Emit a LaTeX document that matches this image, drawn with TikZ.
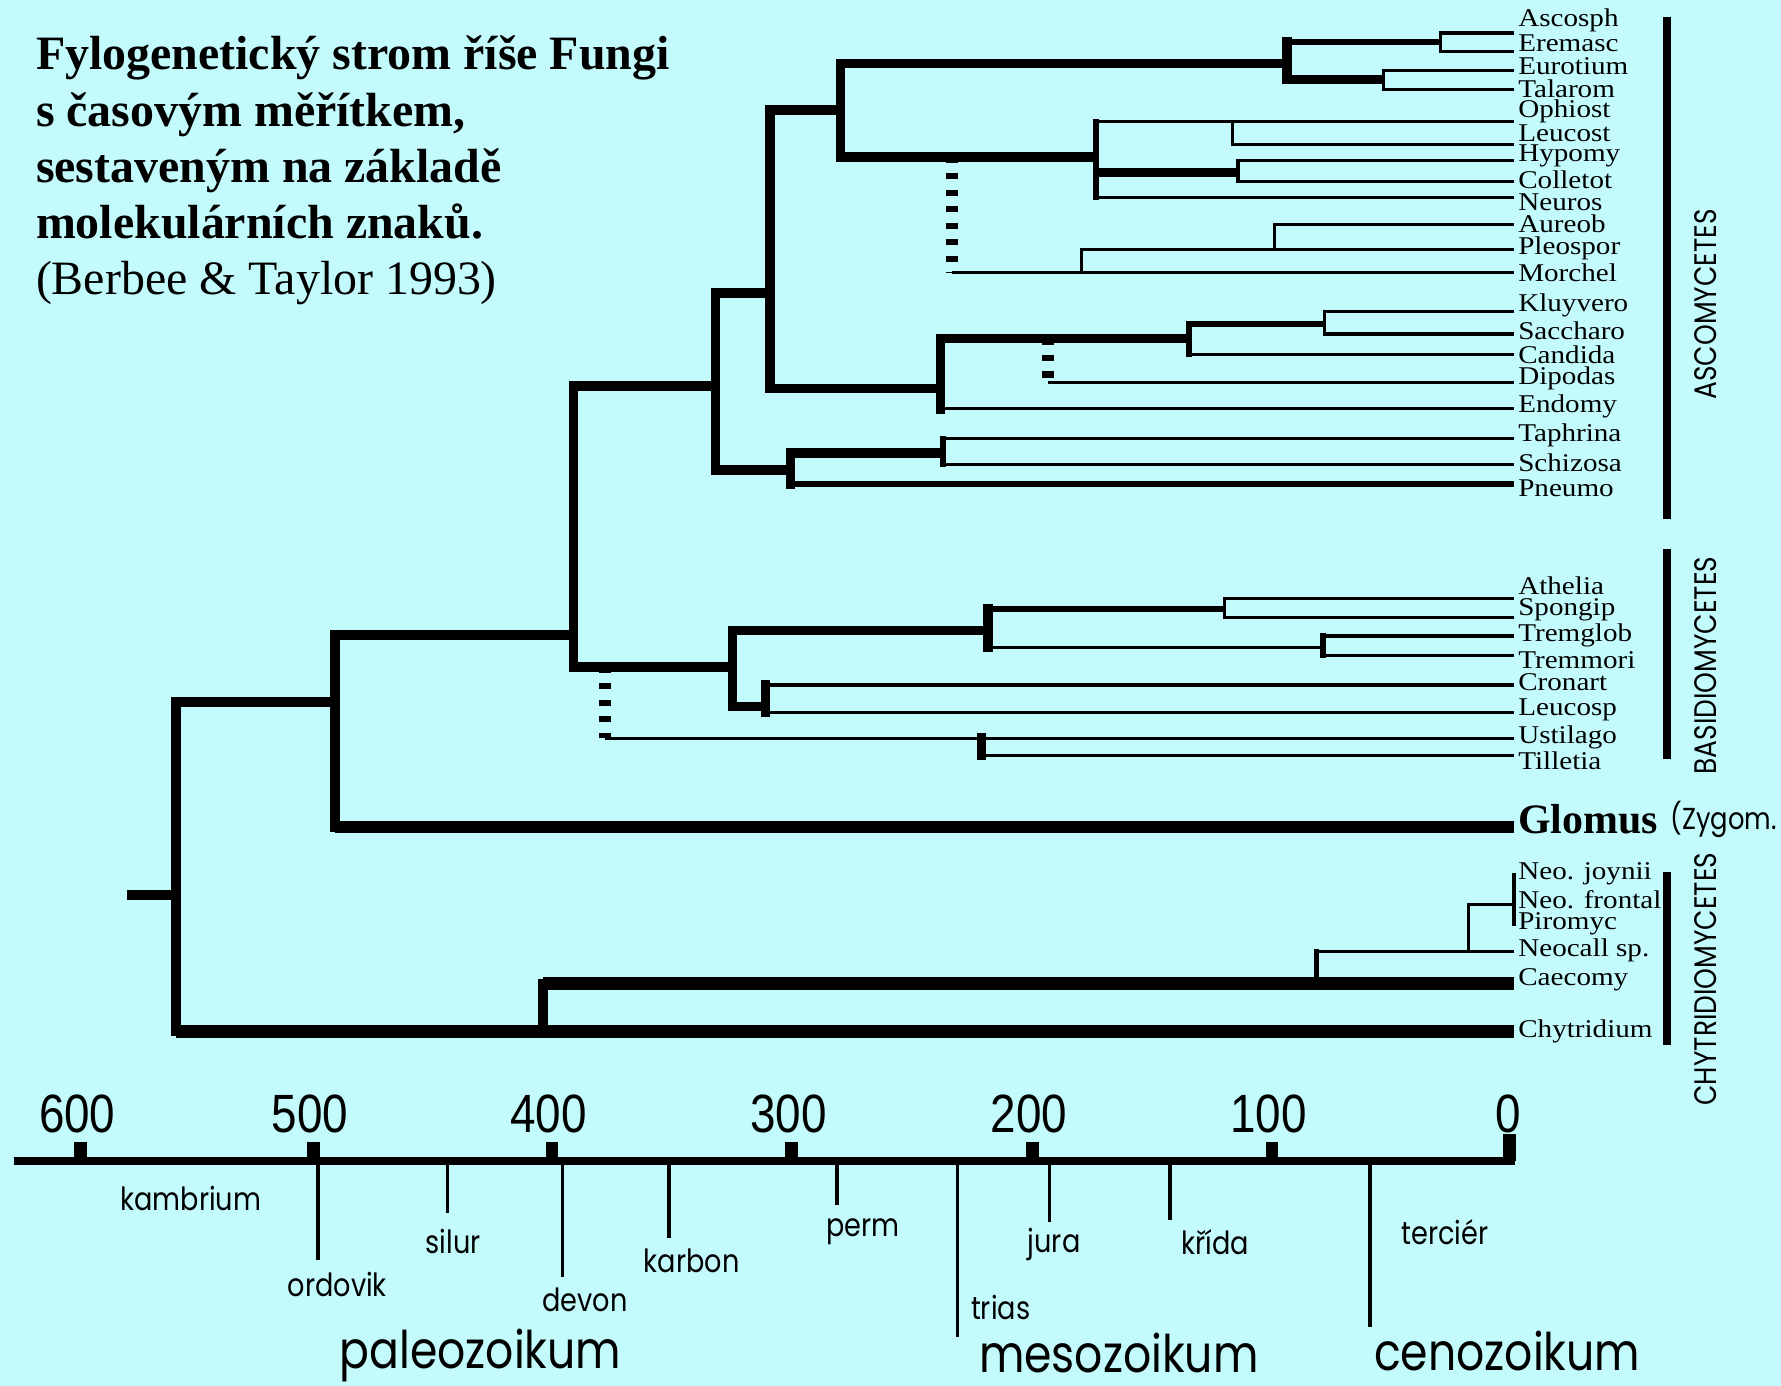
\documentclass[tikz,border=0pt]{standalone}
\usepackage{fontspec}
\setmainfont{Liberation Serif}
\newfontfamily\geofont[FakeStretch=0.85]{Poppins}
\newfontfamily\numfont[FakeStretch=0.85]{Liberation Sans}
\newfontfamily\leaffont[FakeStretch=1.14]{Liberation Serif}
\usepackage{tikz}
\usetikzlibrary{calc}
\usepackage{xcolor}
\definecolor{fungbg}{RGB}{195, 251, 252}
\tikzset{
  brx/.style={line width=1.1mm},
  brt/.style={line width=0.85mm},
  brm/.style={line width=0.5mm},
  brn/.style={line width=0.28mm},
  vbar/.style={line cap=rect},
  dbr/.style={line width=1.05mm, dash pattern=on 0.55mm off 0.9mm},
  ttl/.style={
    anchor=north west, inner sep=0pt, align=left,
    font=\fontsize{12}{14.1}\selectfont\bfseries
  },
  leaf/.style={anchor=west, inner sep=0pt, font=\leaffont\fontsize{6.4}{7}\selectfont},
  grp/.style={rotate=90, inner sep=0pt, font=\geofont\fontsize{7.8}{9}\selectfont},
  gbar/.style={line width=0.7mm},
  axline/.style={line width=0.65mm},
  axtick/.style={line width=1.1mm},
  per/.style={line width=0.3mm},
  plab/.style={inner sep=0pt, font=\geofont\fontsize{8}{9}\selectfont},
  elab/.style={inner sep=0pt, font=\geofont\fontsize{13}{15}\selectfont},
  num/.style={anchor=base, inner sep=0pt, font=\numfont\fontsize{13.5}{15}\selectfont},
}

\begin{document}
\begin{tikzpicture}[x=0.1mm, y=-0.1mm, line join=miter]
  \useasboundingbox (0,0) rectangle (1568,1220);
  \fill[fungbg] (0,0) rectangle (1568,1220);

  \node[ttl] (title) at (31,31) {Fylogenetický strom říše Fungi\\s časovým měřítkem,\\sestaveným na základě\\molekulárních znaků.\\\mdseries (Berbee \& Taylor 1993)};

  \coordinate (t-ascosph) at (1333,29);   \node[leaf] (l-ascosph) at (1336,18) {Ascosph};
  \coordinate (t-eremasc) at (1333,45);   \node[leaf] (l-eremasc) at (1336,38) {Eremasc};
  \coordinate (t-eurotium) at (1333,62);  \node[leaf] (l-eurotium) at (1336,58) {Eurotium};
  \coordinate (t-talarom) at (1333,79);   \node[leaf] (l-talarom) at (1336,78) {Talarom};
  \coordinate (t-ophiost) at (1333,107);  \node[leaf] (l-ophiost) at (1336,98) {Ophiost};
  \coordinate (t-leucost) at (1333,127);  \node[leaf] (l-leucost) at (1336,117) {Leucost};
  \coordinate (t-hypomy) at (1333,141);   \node[leaf] (l-hypomy) at (1336,137) {Hypomy};
  \coordinate (t-colletot) at (1333,160); \node[leaf] (l-colletot) at (1336,158) {Colletot};
  \coordinate (t-neuros) at (1333,174);   \node[leaf] (l-neuros) at (1336,178) {Neuros};
  \coordinate (t-aureob) at (1333,198);   \node[leaf] (l-aureob) at (1336,197) {Aureob};
  \coordinate (t-pleospor) at (1333,220); \node[leaf] (l-pleospor) at (1336,219) {Pleospor};
  \coordinate (t-morchel) at (1333,240);  \node[leaf] (l-morchel) at (1336,240) {Morchel};
  \coordinate (t-kluyvero) at (1333,274); \node[leaf] (l-kluyvero) at (1336,269) {Kluyvero};
  \coordinate (t-saccharo) at (1333,294); \node[leaf] (l-saccharo) at (1336,291) {Saccharo};
  \coordinate (t-candida) at (1333,312);  \node[leaf] (l-candida) at (1336,312) {Candida};
  \coordinate (t-dipodas) at (1333,337);  \node[leaf] (l-dipodas) at (1336,333) {Dipodas};
  \coordinate (t-endomy) at (1333,360);   \node[leaf] (l-endomy) at (1336,358) {Endomy};
  \coordinate (t-taphrina) at (1333,386); \node[leaf] (l-taphrina) at (1336,383) {Taphrina};
  \coordinate (t-schizosa) at (1333,409); \node[leaf] (l-schizosa) at (1336,407) {Schizosa};
  \coordinate (t-pneumo) at (1333,426);   \node[leaf] (l-pneumo) at (1336,430) {Pneumo};
  \coordinate (t-athelia) at (1333,527);  \node[leaf] (l-athelia) at (1336,516) {Athelia};
  \coordinate (t-spongip) at (1333,544);  \node[leaf] (l-spongip) at (1336,537) {Spongip};
  \coordinate (t-tremglob) at (1333,560); \node[leaf] (l-tremglob) at (1336,559) {Tremglob};
  \coordinate (t-tremmori) at (1333,577); \node[leaf] (l-tremmori) at (1336,581) {Tremmori};
  \coordinate (t-cronart) at (1333,603);  \node[leaf] (l-cronart) at (1336,601) {Cronart};
  \coordinate (t-leucosp) at (1333,627);  \node[leaf] (l-leucosp) at (1336,625) {Leucosp};
  \coordinate (t-ustilago) at (1333,650); \node[leaf] (l-ustilago) at (1336,649) {Ustilago};
  \coordinate (t-tilletia) at (1333,665); \node[leaf] (l-tilletia) at (1336,670) {Tilletia};
  \coordinate (t-glomus) at (1333,728);   \node[leaf, font=\fontsize{10.5}{12}\selectfont\bfseries] (l-glomus) at (1336,721) {Glomus};
  \coordinate (t-joynii) at (1333,769);   \node[leaf] (l-joynii) at (1336,769) {Neo. joynii};
  \coordinate (t-frontal) at (1333,796);  \node[leaf] (l-frontal) at (1336,792) {Neo. frontal};
  \coordinate (t-piromyc) at (1333,815);  \node[leaf] (l-piromyc) at (1336,813) {Piromyc};
  \coordinate (t-neocall) at (1333,838);  \node[leaf] (l-neocall) at (1336,837) {Neocall sp.};
  \coordinate (t-caecomy) at (1333,866);  \node[leaf] (l-caecomy) at (1336,863) {Caecomy};
  \coordinate (t-chytridium) at (1333,908); \node[leaf] (l-chytridium) at (1336,908) {Chytridium};
  \node[plab, anchor=west, font=\geofont\fontsize{7.6}{9}\selectfont] (l-zygom) at (1470,721) {(Zygom.};

  \coordinate (n-asc) at (630,340);    \coordinate (n-euasc) at (678,258);
  \coordinate (n-pez) at (740,97);     \coordinate (n-euro) at (1133,56);
  \coordinate (n-ascosph) at (1268,37); \coordinate (n-talar) at (1218,70);
  \coordinate (n-sord) at (965,138);   \coordinate (n-leuc) at (1085,107);
  \coordinate (n-hyp) at (1090,152);   \coordinate (n-dot) at (838,240);
  \coordinate (n-pleo) at (952,240);   \coordinate (n-aureo) at (1122,220);
  \coordinate (n-sacch) at (828,342);  \coordinate (n-kluy) at (1047,298);
  \coordinate (n-kl2) at (1166,285);   \coordinate (n-dip) at (923,337);
  \coordinate (n-arch) at (696,414);   \coordinate (n-taph) at (830,399);
  \coordinate (n-bas) at (645,587);    \coordinate (n-hym) at (870,555);
  \coordinate (n-ath) at (1078,536);   \coordinate (n-trem) at (1165,570);
  \coordinate (n-uredo) at (674,622);  \coordinate (n-ust) at (533,650);
  \coordinate (n-till) at (864,650);   \coordinate (n-dik) at (505,559);
  \coordinate (n-zyg) at (295,618);    \coordinate (n-chy) at (478,908);
  \coordinate (n-cae) at (1159,866);   \coordinate (n-neo) at (1293,838);
  \coordinate (n-poly) at (1333,796);  \coordinate (root) at (155,788);
  \coordinate (stub) at (112,788);

  \draw[brn, vbar] (n-ascosph |- t-ascosph) -- (n-ascosph |- t-eremasc);
  \draw[brn] (n-ascosph |- t-ascosph) -- (t-ascosph); \draw[brn] (n-ascosph |- t-eremasc) -- (t-eremasc);
  \draw[brn, vbar] (n-talar |- t-eurotium) -- (n-talar |- t-talarom);
  \draw[brn] (n-talar |- t-eurotium) -- (t-eurotium); \draw[brn] (n-talar |- t-talarom) -- (t-talarom);
  \draw[brt, vbar] (n-euro |- n-ascosph) -- (n-euro |- n-talar);
  \draw[brm] (n-euro |- n-ascosph) -- (n-ascosph); \draw[brt] (n-euro |- n-talar) -- (n-talar);
  \draw[brt, vbar] (n-pez |- n-euro) -- (n-pez |- n-sord);
  \draw[brt] (n-pez |- n-euro) -- (n-euro); \draw[brt] (n-pez |- n-sord) -- (n-sord);
  \draw[brm, vbar] (n-sord |- n-leuc) -- (n-sord |- t-neuros);
  \draw[brn] (n-sord |- n-leuc) -- (n-leuc); \draw[brt] (n-sord |- n-hyp) -- (n-hyp);
  \draw[brn] (n-sord |- t-neuros) -- (t-neuros);
  \draw[brn, vbar] (n-leuc) -- (n-leuc |- t-leucost);
  \draw[brn] (n-leuc) -- (t-ophiost); \draw[brn] (n-leuc |- t-leucost) -- (t-leucost);
  \draw[brn, vbar] (n-hyp |- t-hypomy) -- (n-hyp |- t-colletot);
  \draw[brn] (n-hyp |- t-hypomy) -- (t-hypomy); \draw[brn] (n-hyp |- t-colletot) -- (t-colletot);
  \draw[dbr] (n-dot |- n-sord) -- (n-dot); \draw[brn] (n-dot) -- (n-pleo);
  \draw[brn, vbar] (n-pleo |- n-aureo) -- (n-pleo);
  \draw[brn] (n-pleo |- n-aureo) -- (n-aureo); \draw[brn] (n-pleo) -- (t-morchel);
  \draw[brn, vbar] (n-aureo |- t-aureob) -- (n-aureo);
  \draw[brn] (n-aureo |- t-aureob) -- (t-aureob); \draw[brn] (n-aureo) -- (t-pleospor);

  \draw[brt, vbar] (n-sacch |- n-kluy) -- (n-sacch |- t-endomy);
  \draw[brt] (n-sacch |- n-kluy) -- (n-kluy); \draw[brn] (n-sacch |- t-endomy) -- (t-endomy);
  \draw[brm, vbar] (n-kluy |- n-kl2) -- (n-kluy |- t-candida);
  \draw[brm] (n-kluy |- n-kl2) -- (n-kl2); \draw[brn] (n-kluy |- t-candida) -- (t-candida);
  \draw[brn, vbar] (n-kl2 |- t-kluyvero) -- (n-kl2 |- t-saccharo);
  \draw[brn] (n-kl2 |- t-kluyvero) -- (t-kluyvero); \draw[brn] (n-kl2 |- t-saccharo) -- (t-saccharo);
  \draw[dbr] (n-dip |- n-kluy) -- (n-dip); \draw[brn] (n-dip) -- (t-dipodas);

  \draw[brt, vbar] (n-arch |- n-taph) -- (n-arch |- t-pneumo);
  \draw[brt] (n-arch |- n-taph) -- (n-taph); \draw[brm] (n-arch |- t-pneumo) -- (t-pneumo);
  \draw[brm, vbar] (n-taph |- t-taphrina) -- (n-taph |- t-schizosa);
  \draw[brn] (n-taph |- t-taphrina) -- (t-taphrina); \draw[brn] (n-taph |- t-schizosa) -- (t-schizosa);

  \draw[brt, vbar] (n-euasc |- n-pez) -- (n-euasc |- n-sacch);
  \draw[brt] (n-euasc |- n-pez) -- (n-pez); \draw[brt] (n-euasc |- n-sacch) -- (n-sacch);
  \draw[brt, vbar] (n-asc |- n-euasc) -- (n-asc |- n-arch);
  \draw[brt] (n-asc |- n-euasc) -- (n-euasc); \draw[brt] (n-asc |- n-arch) -- (n-arch);

  \draw[brn, vbar] (n-ath |- t-athelia) -- (n-ath |- t-spongip);
  \draw[brn] (n-ath |- t-athelia) -- (t-athelia); \draw[brn] (n-ath |- t-spongip) -- (t-spongip);
  \draw[brm, vbar] (n-trem |- t-tremglob) -- (n-trem |- t-tremmori);
  \draw[brn] (n-trem |- t-tremglob) -- (t-tremglob); \draw[brn] (n-trem |- t-tremmori) -- (t-tremmori);
  \draw[brt, vbar] (n-hym |- n-ath) -- (n-hym |- n-trem);
  \draw[brm] (n-hym |- n-ath) -- (n-ath); \draw[brn] (n-hym |- n-trem) -- (n-trem);
  \draw[brt, vbar] (n-uredo |- t-cronart) -- (n-uredo |- t-leucosp);
  \draw[brn] (n-uredo |- t-cronart) -- (t-cronart); \draw[brn] (n-uredo |- t-leucosp) -- (t-leucosp);
  \draw[brt, vbar] (n-bas |- n-hym) -- (n-bas |- n-uredo);
  \draw[brt] (n-bas |- n-hym) -- (n-hym); \draw[brt] (n-bas |- n-uredo) -- (n-uredo);
  \draw[dbr] (n-ust |- n-bas) -- (n-ust); \draw[brn] (n-ust) -- (n-till);
  \draw[brt, vbar] (n-till) -- (n-till |- t-tilletia);
  \draw[brn] (n-till) -- (t-ustilago); \draw[brn] (n-till |- t-tilletia) -- (t-tilletia);

  \draw[brt, vbar] (n-dik |- n-asc) -- (n-dik |- n-bas);
  \draw[brt] (n-dik |- n-asc) -- (n-asc); \draw[brt] (n-dik |- n-bas) -- (n-bas);
  \draw[brt, vbar] (n-zyg |- n-dik) -- (n-zyg |- t-glomus);
  \draw[brt] (n-zyg |- n-dik) -- (n-dik); \draw[brx] (n-zyg |- t-glomus) -- (t-glomus);

  \draw[brn] (t-joynii) -- (t-piromyc);
  \draw[brn, vbar] (n-neo |- n-poly) -- (n-neo);
  \draw[brn] (n-neo |- n-poly) -- (n-poly); \draw[brn] (n-neo) -- (t-neocall);
  \draw[brm, vbar] (n-cae |- n-neo) -- (n-cae);
  \draw[brn] (n-cae |- n-neo) -- (n-neo); \draw[brx] (n-cae) -- (t-caecomy);
  \draw[brt, vbar] (n-chy |- n-cae) -- (n-chy);
  \draw[brx] (n-chy |- n-cae) -- (n-cae); \draw[brx] (n-chy) -- (t-chytridium);
  \draw[brt, vbar] (root |- n-zyg) -- (root |- n-chy);
  \draw[brt] (root |- n-zyg) -- (n-zyg); \draw[brx] (root |- n-chy) -- (n-chy);
  \draw[brt] (stub) -- (root);

  \draw[gbar] (1468,15) -- (1468,457);
  \draw[gbar] (1468,483) -- (1468,668);
  \draw[gbar] (1468,768) -- (1468,920);
  \node[grp] (g-asc) at (1502,268) {ASCOMYCETES};
  \node[grp] (g-bas) at (1502,586) {BASIDIOMYCETES};
  \node[grp] (g-chy) at (1502,862) {CHYTRIDIOMYCETES};

  \draw[axline] (12,1022) -- (1334,1022);
  \foreach \x/\v in {71/600, 276/500, 486/400, 697/300, 909/200, 1120/100} {
    \draw[axtick] (\x,1022) -- (\x,1005);
    \node[num] (m\v) at (\x-3,997) {\v};
  }
  \draw[axtick] (1329,1022) -- (1329,998);
  \node[num] (m0) at (1328,997) {0};
  \foreach \x/\y in {280/1109, 394/1068, 495/1124, 589/1090, 737/1061, 843/1177, 924/1076, 1030/1074, 1206/1168}
    \draw[per] (\x,1022) -- (\x,\y);

  \node[plab] (p-kambrium) at (168,1055) {kambrium};
  \node[plab] (p-ordovik) at (297,1131) {ordovik};
  \node[plab] (p-silur) at (399,1093) {silur};
  \node[plab] (p-devon) at (515,1144) {devon};
  \node[plab] (p-karbon) at (609,1110) {karbon};
  \node[plab] (p-perm) at (760,1084) {perm};
  \node[plab] (p-trias) at (881,1151) {trias};
  \node[plab] (p-jura) at (928,1096) {jura};
  \node[plab] (p-krida) at (1070,1094) {křída};
  \node[plab] (p-tercier) at (1272,1085) {terciér};
  \node[elab] (e-paleo) at (423,1193) {paleozoikum};
  \node[elab] (e-meso) at (985,1191) {mesozoikum};
  \node[elab] (e-ceno) at (1327,1189) {cenozoikum};
\end{tikzpicture}
\end{document}
